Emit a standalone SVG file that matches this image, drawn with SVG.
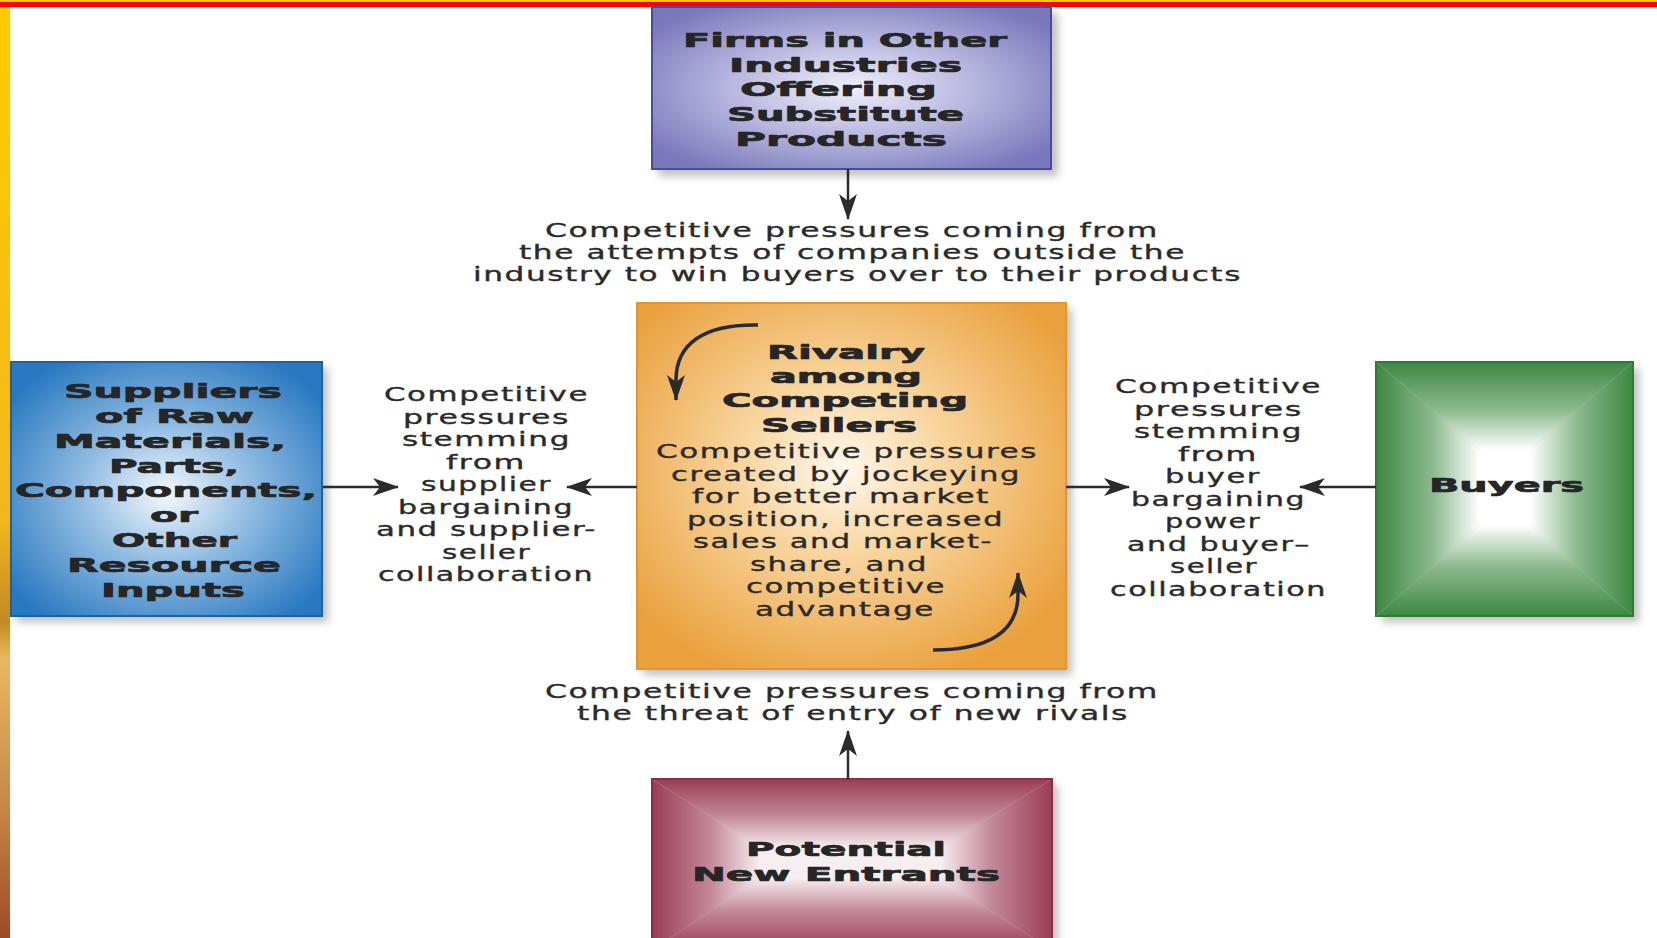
<svg xmlns="http://www.w3.org/2000/svg" width="1657" height="938" viewBox="0 0 1657 938">
  <defs>
    <style>
      .title { font-family: "DejaVu Sans", "Liberation Sans", sans-serif; font-weight: bold; font-size: 20px; fill: #262626; stroke: #262626; stroke-width: 0.7px; stroke-linejoin: round; }
      .body { font-family: "DejaVu Sans", "Liberation Sans", sans-serif; font-size: 19.5px; fill: #2a2a2a; stroke: #2a2a2a; stroke-width: 0.35px; letter-spacing: 1px; }
      .edge { stroke: #2b2b2b; stroke-width: 2.5; fill: none; marker-end: url(#arrow); }
      .loop { stroke: #272a36; stroke-width: 3.5; fill: none; marker-end: url(#arrow); }
      .shadow { fill: #8a8a8a; opacity: 0.55; filter: url(#blur); }
    </style>
    <filter id="blur" x="-10%" y="-10%" width="120%" height="120%">
      <feGaussianBlur stdDeviation="4"/>
    </filter>
    <marker id="arrow" viewBox="0 0 26 18" markerWidth="26" markerHeight="18" refX="25" refY="9" orient="auto" markerUnits="userSpaceOnUse">
      <path d="M0,0 L26,9 L0,18 L7,9 Z" fill="#2b2b2b"/>
    </marker>

    <!-- side strip and box fills -->
    <linearGradient id="strip" x1="0" y1="0" x2="0" y2="1">
      <stop offset="0" stop-color="#ffcc00"/>
      <stop offset="0.55" stop-color="#f2b81c"/>
      <stop offset="0.66" stop-color="#c28a22"/>
      <stop offset="0.7" stop-color="#eab860"/>
      <stop offset="0.85" stop-color="#c98a4c"/>
      <stop offset="1" stop-color="#9c4a26"/>
    </linearGradient>
    <radialGradient id="purpleFill" cx="0.5" cy="0.5" r="0.62">
      <stop offset="0" stop-color="#efeffb"/>
      <stop offset="0.5" stop-color="#b6b6df"/>
      <stop offset="1" stop-color="#7878bb"/>
    </radialGradient>
    <radialGradient id="blueFill" cx="0.5" cy="0.52" r="0.62">
      <stop offset="0" stop-color="#f3f8fd"/>
      <stop offset="0.45" stop-color="#8fbbe2"/>
      <stop offset="1" stop-color="#2a79c0"/>
    </radialGradient>
    <radialGradient id="orangeFill" cx="0.48" cy="0.45" r="0.62">
      <stop offset="0" stop-color="#fff8ec"/>
      <stop offset="0.4" stop-color="#f8d49c"/>
      <stop offset="1" stop-color="#eaa03c"/>
    </radialGradient>

    <linearGradient id="greenT" x1="0" y1="0" x2="0" y2="1">
      <stop offset="0" stop-color="#3c8842"/>
      <stop offset="0.55" stop-color="#8dba8f"/>
      <stop offset="1" stop-color="#ffffff"/>
    </linearGradient>
    <linearGradient id="greenB" href="#greenT" x1="0" y1="1" x2="0" y2="0"/>
    <linearGradient id="greenL" href="#greenT" x1="0" y1="0" x2="1" y2="0"/>
    <linearGradient id="greenR" href="#greenT" x1="1" y1="0" x2="0" y2="0"/>

    <linearGradient id="roseT" x1="0" y1="0" x2="0" y2="1">
      <stop offset="0" stop-color="#9a3c55"/>
      <stop offset="0.55" stop-color="#c48a9a"/>
      <stop offset="1" stop-color="#f7eef0"/>
    </linearGradient>
    <linearGradient id="roseB" href="#roseT" x1="0" y1="1" x2="0" y2="0"/>
    <linearGradient id="roseL" href="#roseT" x1="0" y1="0" x2="1" y2="0"/>
    <linearGradient id="roseR" href="#roseT" x1="1" y1="0" x2="0" y2="0"/>
  </defs>

  <!-- page frame -->
  <rect x="0" y="0" width="1657" height="938" fill="#ffffff"/>
  <rect x="0" y="7" width="10" height="931" fill="url(#strip)"/>
  <rect x="0" y="0" width="1657" height="2" fill="#ffcc00"/>
  <rect x="0" y="2" width="1657" height="5" fill="#ff0000"/>

  <!-- top: substitute products -->
  <g id="substitutes">
    <rect class="shadow" x="658" y="13" width="400" height="163"/>
    <rect x="652" y="7" width="399" height="162" fill="url(#purpleFill)" stroke="#4a4a9e" stroke-width="2"/>
    <text class="title" x="683" y="47" textLength="324" lengthAdjust="spacingAndGlyphs">Firms in Other</text>
    <text class="title" x="729" y="71.5" textLength="233" lengthAdjust="spacingAndGlyphs">Industries</text>
    <text class="title" x="740" y="96" textLength="197" lengthAdjust="spacingAndGlyphs">Offering</text>
    <text class="title" x="727" y="121" textLength="237" lengthAdjust="spacingAndGlyphs">Substitute</text>
    <text class="title" x="735" y="146" textLength="212" lengthAdjust="spacingAndGlyphs">Products</text>
  </g>

  <!-- centre: industry rivalry -->
  <g id="rivalry">
    <rect class="shadow" x="643" y="309" width="429" height="366"/>
    <rect x="637" y="303" width="429" height="366" fill="url(#orangeFill)" stroke="#e3962e" stroke-width="2"/>
    <text class="title" x="767" y="359" textLength="158" lengthAdjust="spacingAndGlyphs">Rivalry</text>
    <text class="title" x="770" y="383" textLength="152" lengthAdjust="spacingAndGlyphs">among</text>
    <text class="title" x="722" y="407" textLength="246" lengthAdjust="spacingAndGlyphs">Competing</text>
    <text class="title" x="761" y="432" textLength="156" lengthAdjust="spacingAndGlyphs">Sellers</text>
    <text class="body" x="656" y="458" textLength="382" lengthAdjust="spacingAndGlyphs">Competitive pressures</text>
    <text class="body" x="671" y="480.5" textLength="350" lengthAdjust="spacingAndGlyphs">created by jockeying</text>
    <text class="body" x="692" y="503" textLength="298" lengthAdjust="spacingAndGlyphs">for better market</text>
    <text class="body" x="687" y="525.5" textLength="317" lengthAdjust="spacingAndGlyphs">position, increased</text>
    <text class="body" x="693" y="548" textLength="300" lengthAdjust="spacingAndGlyphs">sales and market-</text>
    <text class="body" x="750" y="570.5" textLength="178" lengthAdjust="spacingAndGlyphs">share, and</text>
    <text class="body" x="746" y="593" textLength="200" lengthAdjust="spacingAndGlyphs">competitive</text>
    <text class="body" x="755" y="615.5" textLength="180" lengthAdjust="spacingAndGlyphs">advantage</text>
  </g>

  <!-- left: suppliers -->
  <g id="suppliers">
    <rect class="shadow" x="17" y="368" width="311" height="254"/>
    <rect x="11" y="362" width="311" height="254" fill="url(#blueFill)" stroke="#1c62a6" stroke-width="2"/>
    <text class="title" x="64" y="398" textLength="218" lengthAdjust="spacingAndGlyphs">Suppliers</text>
    <text class="title" x="95" y="423" textLength="159" lengthAdjust="spacingAndGlyphs">of Raw</text>
    <text class="title" x="54" y="448" textLength="232" lengthAdjust="spacingAndGlyphs">Materials,</text>
    <text class="title" x="109" y="473" textLength="130" lengthAdjust="spacingAndGlyphs">Parts,</text>
    <text class="title" x="15" y="497" textLength="302" lengthAdjust="spacingAndGlyphs">Components,</text>
    <text class="title" x="150" y="522" textLength="48" lengthAdjust="spacingAndGlyphs">or</text>
    <text class="title" x="112" y="547" textLength="125" lengthAdjust="spacingAndGlyphs">Other</text>
    <text class="title" x="67" y="572" textLength="214" lengthAdjust="spacingAndGlyphs">Resource</text>
    <text class="title" x="101" y="597" textLength="144" lengthAdjust="spacingAndGlyphs">Inputs</text>
  </g>

  <!-- right: buyers -->
  <g id="buyers">
    <rect class="shadow" x="1382" y="368" width="257" height="254"/>
    <polygon points="1376,362 1633,362 1530,450 1480,450" fill="url(#greenT)"/>
    <polygon points="1376,616 1633,616 1530,525 1480,525" fill="url(#greenB)"/>
    <polygon points="1376,362 1480,450 1480,525 1376,616" fill="url(#greenL)"/>
    <polygon points="1633,362 1530,450 1530,525 1633,616" fill="url(#greenR)"/>
    <rect x="1480" y="450" width="50" height="75" fill="#ffffff"/>
    <rect x="1376" y="362" width="257" height="254" fill="none" stroke="#2f7a35" stroke-width="2"/>
    <text class="title" x="1429" y="492" textLength="155" lengthAdjust="spacingAndGlyphs">Buyers</text>
  </g>

  <!-- bottom: new entrants -->
  <g id="new-entrants">
    <rect class="shadow" x="658" y="785" width="400" height="170"/>
    <polygon points="652,779 1052,779 940,848 760,848" fill="url(#roseT)"/>
    <polygon points="652,950 1052,950 940,878 760,878" fill="url(#roseB)"/>
    <polygon points="652,779 760,848 760,878 652,950" fill="url(#roseL)"/>
    <polygon points="1052,779 940,848 940,878 1052,950" fill="url(#roseR)"/>
    <rect x="760" y="848" width="180" height="30" fill="#f7eef0"/>
    <rect x="652" y="779" width="400" height="171" fill="none" stroke="#8b2d45" stroke-width="2"/>
    <text class="title" x="746" y="856" textLength="200" lengthAdjust="spacingAndGlyphs">Potential</text>
    <text class="title" x="692" y="881" textLength="308" lengthAdjust="spacingAndGlyphs">New Entrants</text>
  </g>

  <!-- descriptions of each competitive pressure -->
  <g id="pressure-labels">
    <text class="body" x="545" y="237" textLength="614" lengthAdjust="spacingAndGlyphs">Competitive pressures coming from</text>
    <text class="body" x="519" y="259" textLength="667" lengthAdjust="spacingAndGlyphs">the attempts of companies outside the</text>
    <text class="body" x="473" y="281" textLength="769" lengthAdjust="spacingAndGlyphs">industry to win buyers over to their products</text>

    <text class="body" x="384" y="401" textLength="205" lengthAdjust="spacingAndGlyphs">Competitive</text>
    <text class="body" x="403" y="423.5" textLength="167" lengthAdjust="spacingAndGlyphs">pressures</text>
    <text class="body" x="402" y="446" textLength="169" lengthAdjust="spacingAndGlyphs">stemming</text>
    <text class="body" x="446" y="468.5" textLength="80" lengthAdjust="spacingAndGlyphs">from</text>
    <text class="body" x="421" y="491" textLength="131" lengthAdjust="spacingAndGlyphs">supplier</text>
    <text class="body" x="398" y="513.5" textLength="176" lengthAdjust="spacingAndGlyphs">bargaining</text>
    <text class="body" x="376" y="536" textLength="221" lengthAdjust="spacingAndGlyphs">and supplier-</text>
    <text class="body" x="442" y="558.5" textLength="89" lengthAdjust="spacingAndGlyphs">seller</text>
    <text class="body" x="378" y="581" textLength="216" lengthAdjust="spacingAndGlyphs">collaboration</text>

    <text class="body" x="1115" y="393" textLength="207" lengthAdjust="spacingAndGlyphs">Competitive</text>
    <text class="body" x="1134" y="415.5" textLength="169" lengthAdjust="spacingAndGlyphs">pressures</text>
    <text class="body" x="1134" y="438" textLength="169" lengthAdjust="spacingAndGlyphs">stemming</text>
    <text class="body" x="1178" y="460.5" textLength="80" lengthAdjust="spacingAndGlyphs">from</text>
    <text class="body" x="1165" y="483" textLength="96" lengthAdjust="spacingAndGlyphs">buyer</text>
    <text class="body" x="1131" y="505.5" textLength="175" lengthAdjust="spacingAndGlyphs">bargaining</text>
    <text class="body" x="1165" y="528" textLength="96" lengthAdjust="spacingAndGlyphs">power</text>
    <text class="body" x="1127" y="550.5" textLength="184" lengthAdjust="spacingAndGlyphs">and buyer–</text>
    <text class="body" x="1170" y="573" textLength="88" lengthAdjust="spacingAndGlyphs">seller</text>
    <text class="body" x="1110" y="595.5" textLength="217" lengthAdjust="spacingAndGlyphs">collaboration</text>

    <text class="body" x="545" y="698" textLength="614" lengthAdjust="spacingAndGlyphs">Competitive pressures coming from</text>
    <text class="body" x="577" y="720" textLength="552" lengthAdjust="spacingAndGlyphs">the threat of entry of new rivals</text>
  </g>

  <!-- arrows -->
  <g id="connectors">
    <path class="edge" d="M848,169 L848,219"/>
    <path class="edge" d="M848,779 L848,731"/>
    <path class="edge" d="M323,487 L398,487"/>
    <path class="edge" d="M637,487 L567,487"/>
    <path class="edge" d="M1066,487 L1129,487"/>
    <path class="edge" d="M1376,487 L1300,487"/>
    <path class="loop" d="M758,325 C702,324 676,345 676,380 L676,400"/>
    <path class="loop" d="M933,650 C994,650 1018,628 1018,594 L1018,573"/>
  </g>
</svg>
